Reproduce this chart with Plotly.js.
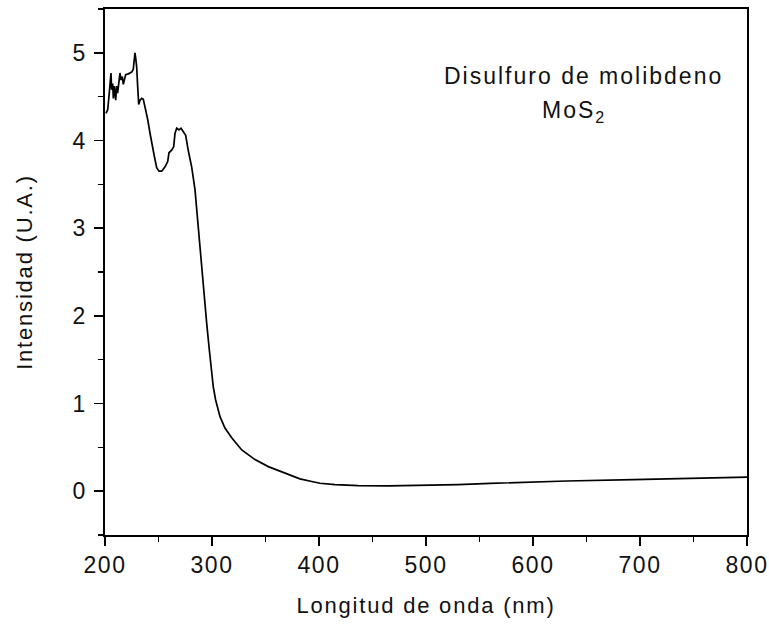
<!DOCTYPE html>
<html>
<head>
<meta charset="utf-8">
<script src="https://cdn.plot.ly/plotly-3.0.1.min.js"></script>
<style>
  html, body { margin: 0; padding: 0; background: #fff; }
  #chart { width: 769px; height: 625px; }
  .xtitle, .ytitle { letter-spacing: 1.8px; }
  .xtick text, .ytick text { letter-spacing: 1.5px; }
  .annotation-text { letter-spacing: 2px; }
</style>
</head>
<body>
<div id="chart"></div>
<script>
// Wavelength (nm)
const wavelength = [
  200.9, 202.5, 203.7, 204.7, 205.6, 206.2, 207.2, 207.8, 208.7, 210.0,
  210.9, 211.8, 213.1, 214.0, 215.0, 216.2, 217.1, 218.0, 219.3, 221.8,
  224.9, 226.4, 227.4, 228.0, 228.7, 229.6, 230.5, 231.5, 232.7, 234.3,
  235.8, 237.4, 239.9, 242.1, 244.2, 246.1, 248.3, 250.5, 253.0, 256.1,
  258.6, 259.8, 262.3, 264.2, 265.4, 267.0, 269.2, 271.0, 273.2, 275.4,
  277.9, 281.0, 284.1, 286.3, 288.1, 290.4, 292.5, 295.0, 297.5, 299.7,
  301.2, 303.4, 307.5, 312.1, 318.4, 327.8, 340.2, 352.6, 371.3, 382.2,
  393.2, 400.9, 415.0, 436.7, 465.0, 494.4, 530.0, 559.8, 597.2, 631.5,
  693.8, 756.1, 790.4, 800.0
];
// Intensity (U.A.)
const intensity = [
  4.31, 4.35, 4.50, 4.62, 4.77, 4.58, 4.65, 4.48, 4.62, 4.46,
  4.62, 4.54, 4.73, 4.77, 4.69, 4.73, 4.64, 4.69, 4.75, 4.76,
  4.78, 4.81, 4.90, 5.00, 4.94, 4.84, 4.62, 4.41, 4.46, 4.48,
  4.47, 4.39, 4.24, 4.08, 3.93, 3.82, 3.69, 3.65, 3.65, 3.70,
  3.76, 3.86, 3.89, 3.93, 4.08, 4.14, 4.12, 4.14, 4.10, 4.06,
  3.88, 3.70, 3.44, 3.13, 2.83, 2.53, 2.22, 1.92, 1.61, 1.39,
  1.19, 1.04, 0.85, 0.72, 0.61, 0.47, 0.36, 0.28, 0.19, 0.14,
  0.11, 0.09, 0.075, 0.063, 0.060, 0.063, 0.075, 0.089, 0.105, 0.116,
  0.131, 0.146, 0.157, 0.16
];
const xTickVals = [200, 300, 400, 500, 600, 700, 800];
const yTickVals = [0, 1, 2, 3, 4, 5];
const annotationLine1 = "Disulfuro de molibdeno";
const annotationLine2 = "MoS<sub>2</sub>";
const xTitle = "Longitud de onda (nm)";
const yTitle = "Intensidad (U.A.)";

const font = "Liberation Sans, Arial, sans-serif";

const trace = {
  x: wavelength,
  y: intensity,
  type: "scatter",
  mode: "lines",
  line: { color: "#000", width: 1.7 },
  hoverinfo: "skip"
};

const axisCommon = {
  showline: true,
  linecolor: "#000",
  linewidth: 1.6,
  mirror: true,
  ticks: "outside",
  ticklen: 9,
  tickwidth: 1.6,
  tickcolor: "#000",
  showgrid: false,
  zeroline: false,
  tickfont: { family: font, size: 23, color: "#111" }
};

const layout = {
  width: 769,
  height: 625,
  margin: { l: 105, r: 22, t: 9, b: 90 },
  paper_bgcolor: "#fff",
  plot_bgcolor: "#fff",
  showlegend: false,
  xaxis: Object.assign({}, axisCommon, {
    range: [200, 800],
    tickvals: xTickVals,
    ticktext: xTickVals.map(String),
    minor: { ticks: "outside", dtick: 50, tick0: 200, ticklen: 5, tickwidth: 1.4, tickcolor: "#000", showgrid: false },
    title: { text: xTitle, font: { family: font, size: 22, color: "#111" }, standoff: 20 }
  }),
  yaxis: Object.assign({}, axisCommon, {
    range: [-0.5, 5.5],
    tickvals: yTickVals,
    ticktext: yTickVals.map(String),
    ticklabelstandoff: 3,
    minor: { ticks: "outside", dtick: 0.5, tick0: 0, ticklen: 5, tickwidth: 1.4, tickcolor: "#000", showgrid: false },
    title: { text: yTitle, font: { family: font, size: 22, color: "#111" }, standoff: 34 }
  }),
  annotations: [
    { text: annotationLine1, xref: "paper", yref: "paper", x: 0.746, y: 0.873,
      xanchor: "center", yanchor: "middle", showarrow: false,
      font: { family: font, size: 23, color: "#111" } },
    { text: annotationLine2, xref: "paper", yref: "paper", x: 0.731, y: 0.806,
      xanchor: "center", yanchor: "middle", showarrow: false,
      font: { family: font, size: 23, color: "#111" } }
  ]
};

Plotly.newPlot("chart", [trace], layout, { staticPlot: true, displayModeBar: false });
</script>
</body>
</html>
